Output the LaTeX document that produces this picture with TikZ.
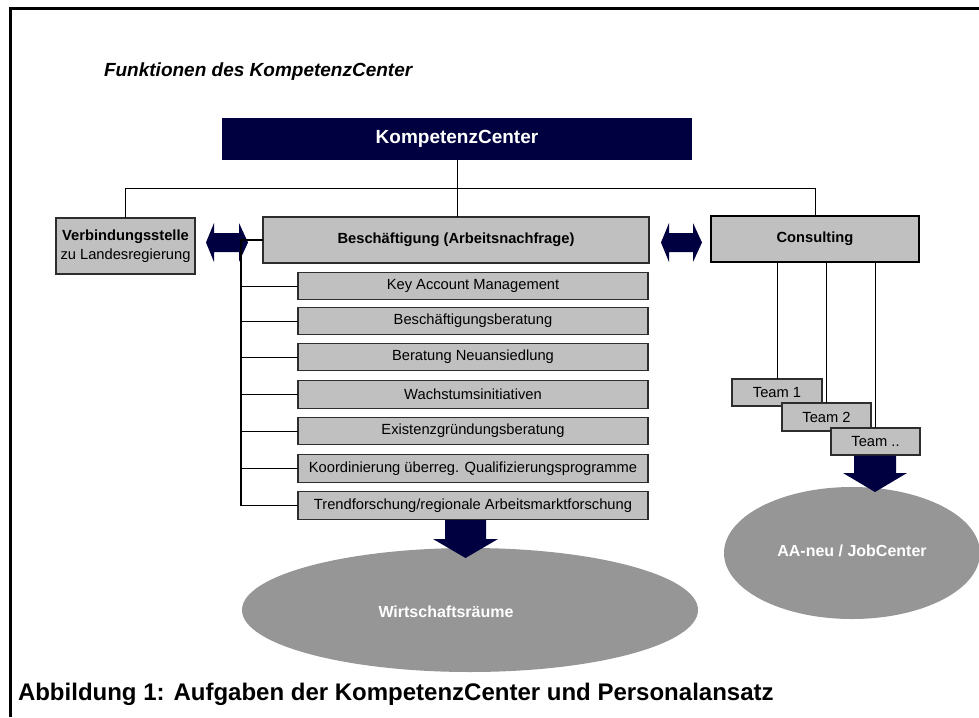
\documentclass[tikz,border=0pt]{standalone}
\usepackage{fontspec}
\setmainfont{Liberation Sans}
\usetikzlibrary{shapes.geometric}
\definecolor{navy}{RGB}{0,0,64}
\definecolor{boxgray}{RGB}{192,192,192}
\definecolor{ellgray}{RGB}{150,150,150}
\definecolor{edgec}{RGB}{45,45,45}
\begin{document}
\begin{tikzpicture}[x=1pt,y=-1pt,
  every node/.style={inner sep=0pt, outer sep=0pt},
  gbox/.style={draw=edgec, line width=1.2pt, fill=boxgray, font=\fontsize{14.7}{18}\selectfont, align=center},
  subbox/.style={gbox, minimum width=350pt, minimum height=27.5pt},
  teambox/.style={gbox, minimum width=89pt, minimum height=27pt},
  ell/.style={ellipse, fill=ellgray, draw=none},
  elltext/.style={text=white, font=\fontsize{16}{19}\selectfont\bfseries},
  conn/.style={draw=black, line width=1pt},
  bus/.style={draw=black, line width=2pt},
  blockarrow/.style={fill=navy, draw=none}
]
\useasboundingbox (0,0) rectangle (979,717);
\fill[white] (0,0) rectangle (979,717);
\draw[line width=3pt] (979,9) -- (10,9) -- (10,717);

\node[anchor=base west, font=\fontsize{19}{22}\selectfont\bfseries\itshape] (title) at (104,76) {Funktionen des KompetenzCenter};

\node[fill=navy, draw=none, minimum width=470pt, minimum height=42pt, text=white, font=\fontsize{19}{22}\selectfont\bfseries] (kc) at (457,139) {KompetenzCenter};

% ellipses (behind the block arrows)
\node[ell, minimum width=456pt, minimum height=124pt] (wr) at (470,610) {};
\node[ell, minimum width=256pt, minimum height=132pt] (aa) at (852,553) {};
\node[elltext] (wrt) at (446,612) {Wirtschaftsräume};
\node[elltext] (aat) at (852,551) {AA-neu / JobCenter};

% double arrows
\fill[blockarrow] (206,242.5) -- (214,223) -- (214,233) -- (239,233) -- (239,223) -- (248,242.5) -- (239,262) -- (239,252) -- (214,252) -- (214,262) -- cycle;
\fill[blockarrow] (661,242.5) -- (669,223) -- (669,233) -- (693,233) -- (693,223) -- (702,242.5) -- (693,262) -- (693,252) -- (669,252) -- (669,262) -- cycle;

\node[gbox, minimum width=139pt, minimum height=56pt, font=\fontsize{14.7}{19}\selectfont] (verb) at (125.5,246) {\textbf{Verbindungsstelle}\\zu Landesregierung};
\node[gbox, minimum width=386pt, minimum height=46pt, font=\fontsize{14.7}{18}\selectfont\bfseries] (besch) at (456,240) {Beschäftigung (Arbeitsnachfrage)};
\node[gbox, minimum width=208pt, minimum height=46pt, draw=black, font=\fontsize{14.7}{18}\selectfont\bfseries] (cons) at (815,239) {Consulting};

\node[subbox] (s1) at (473,286) {Key Account Management};
\node[subbox] (s2) at (473,321) {Beschäftigungsberatung};
\node[subbox] (s3) at (473,357) {Beratung Neuansiedlung};
\node[subbox] (s4) at (473,394.5) {Wachstumsinitiativen};
\node[subbox] (s5) at (473,431) {Existenzgründungsberatung};
\node[subbox] (s6) at (473,468.5) {Koordinierung überreg. Qualifizierungsprogramme};
\node[subbox] (s7) at (473,505.5) {Trendforschung/regionale Arbeitsmarktforschung};

\node[teambox, minimum width=90pt] (t1) at (777,392.5) {Team 1};
\node[teambox, minimum height=28pt] (t2) at (826.5,417) {Team 2};
\node[teambox] (t3) at (875.5,441.5) {Team ..};

% down block arrows
\fill[blockarrow] (445,520) -- (486,520) -- (486,539) -- (498,539) -- (465.5,558) -- (433,539) -- (445,539) -- cycle;
\fill[blockarrow] (854,455.5) -- (896,455.5) -- (896,473) -- (907,473) -- (875,492) -- (843,473) -- (854,473) -- cycle;

% connectors
\draw[conn] (kc.south) -- ++(0,28) coordinate (j);
\draw[conn] (j) -| (verb.north);
\draw[conn] (j) -| (cons.north);
\draw[conn] (j) -- (j |- besch.north);
\coordinate (bx) at (241,0);
\foreach \s in {s1,s2,s3,s4,s5,s6,s7} \draw[conn] (\s.west) -- (bx |- \s.west);
\draw[bus] (besch.west) -| (bx |- s7.west);
\foreach \t in {t1,t2,t3} \draw[conn] (\t.north) -- (\t.north |- cons.south);

\node[anchor=base west, font=\fontsize{24}{28}\selectfont\bfseries] (cap) at (18,700) {Abbildung 1: Aufgaben der KompetenzCenter und Personalansatz};
\end{tikzpicture}
\end{document}
